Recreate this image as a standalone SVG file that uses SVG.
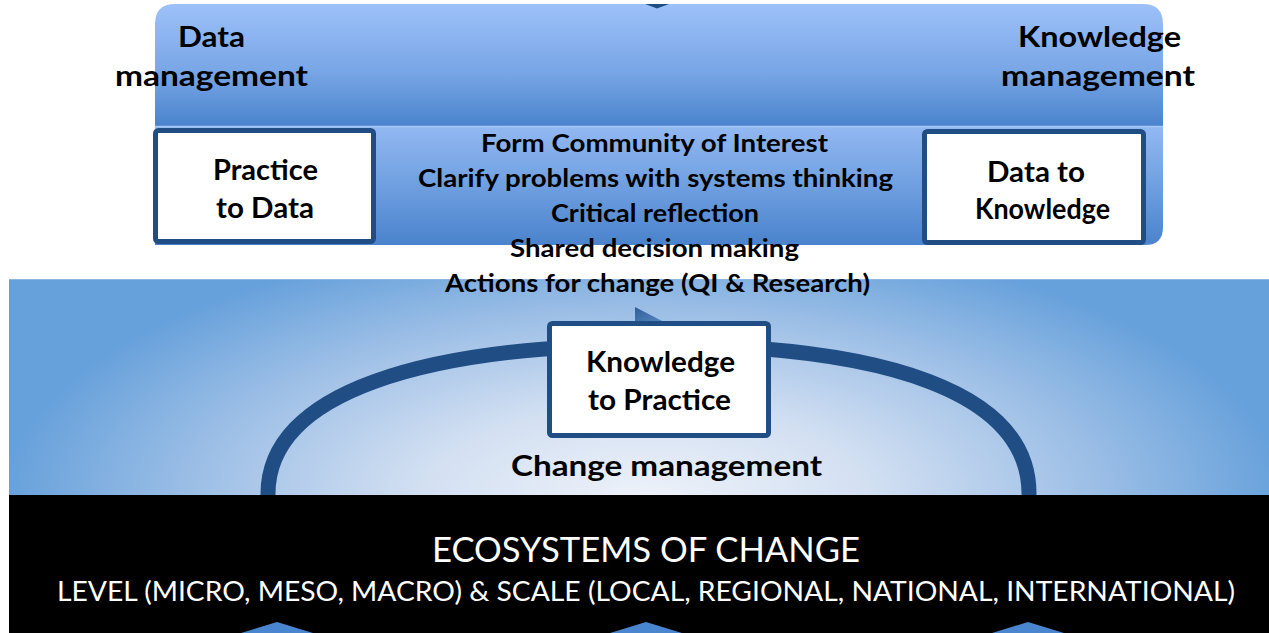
<svg xmlns="http://www.w3.org/2000/svg" width="1269" height="633" viewBox="0 0 1269 633">
  <defs>
    <linearGradient id="gTop" x1="0" y1="0" x2="0" y2="1">
      <stop offset="0" stop-color="#9dc1f9"/>
      <stop offset="0.55" stop-color="#79a6e6"/>
      <stop offset="1" stop-color="#4a84cd"/>
    </linearGradient>
    <linearGradient id="gLow" x1="0" y1="0" x2="0" y2="1">
      <stop offset="0" stop-color="#92b8f1"/>
      <stop offset="0.5" stop-color="#6f9fe0"/>
      <stop offset="1" stop-color="#4a83cc"/>
    </linearGradient>
    <radialGradient id="gMid" cx="645" cy="500" r="640" gradientUnits="userSpaceOnUse" gradientTransform="translate(645 500) scale(1 0.42) translate(-645 -500)">
      <stop offset="0" stop-color="#eef2f9"/>
      <stop offset="0.35" stop-color="#d3e0f2"/>
      <stop offset="0.7" stop-color="#9dbfe6"/>
      <stop offset="1" stop-color="#67a1db"/>
    </radialGradient>
    <linearGradient id="gTri" x1="0" y1="0" x2="1" y2="1">
      <stop offset="0" stop-color="#2f5f98"/>
      <stop offset="1" stop-color="#5a89c2"/>
    </linearGradient>
    <style>
      .box { fill: #ffffff; stroke: #1f4d84; stroke-width: 5; }
      .bl { font-family: Lato, "Open Sans", "Liberation Sans", sans-serif; font-weight: 700; fill: #000000; text-anchor: middle; }
      .wt { font-family: Lato, "Open Sans", "Liberation Sans", sans-serif; font-weight: 400; fill: #ffffff; text-anchor: middle; }
    </style>
  </defs>

  <rect x="0" y="0" width="1269" height="633" fill="#ffffff"/>

  <!-- middle band -->
  <g id="change-band">
    <rect x="9" y="279" width="1260" height="217" fill="url(#gMid)"/>
    <line x1="9" y1="279.5" x2="1269" y2="279.5" stroke="#8fb6e2" stroke-width="1"/>
  </g>

  <!-- top panel -->
  <g id="management-panel">
    <path d="M155 126 V24 Q155 4 175 4 H1143 Q1163 4 1163 24 V126 Z" fill="url(#gTop)"/>
    <path d="M155 127 H1163 V227 Q1163 245 1145 245 H155 Z" fill="url(#gLow)"/>
    <line x1="155" y1="126.5" x2="1163" y2="126.5" stroke="#a9c8f5" stroke-width="1.5"/>
  </g>

  <g id="connectors">
    <path d="M268 496 C266 392 425 345 655 345 C885 345 1031 392 1029 496" fill="none" stroke="#1f4d84" stroke-width="15"/>
    <polygon points="645,4 669,4 657,8.5" fill="#1f4d84"/>
    <polygon points="635,307 635,323 666,323" fill="url(#gTri)"/>
  </g>

  <g id="data-management">
    <text class="bl" x="211.5" y="47" font-size="29" textLength="67" lengthAdjust="spacingAndGlyphs">Data</text>
    <text class="bl" x="211.5" y="86" font-size="29" textLength="193" lengthAdjust="spacingAndGlyphs">management</text>
  </g>

  <g id="knowledge-management">
    <text class="bl" x="1099.5" y="47" font-size="29" textLength="163" lengthAdjust="spacingAndGlyphs">Knowledge</text>
    <text class="bl" x="1098" y="86" font-size="29" textLength="194" lengthAdjust="spacingAndGlyphs">management</text>
  </g>

  <g id="practice-to-data">
    <rect class="box" x="155.5" y="130.5" width="218" height="111" rx="3"/>
    <text class="bl" x="265.5" y="180" font-size="28" textLength="105" lengthAdjust="spacingAndGlyphs">Practice</text>
    <text class="bl" x="265" y="218" font-size="28" textLength="98" lengthAdjust="spacingAndGlyphs">to Data</text>
  </g>

  <g id="data-to-knowledge">
    <rect class="box" x="924.5" y="131.5" width="219" height="111" rx="3"/>
    <text class="bl" x="1036" y="182" font-size="28" textLength="98" lengthAdjust="spacingAndGlyphs">Data to</text>
    <text class="bl" x="1042.5" y="219" font-size="28" textLength="135" lengthAdjust="spacingAndGlyphs">Knowledge</text>
  </g>

  <g id="steps">
    <text class="bl" x="654.5" y="152" font-size="25" textLength="347" lengthAdjust="spacingAndGlyphs">Form Community of Interest</text>
    <text class="bl" x="655.5" y="187" font-size="25" textLength="475" lengthAdjust="spacingAndGlyphs">Clarify problems with systems thinking</text>
    <text class="bl" x="655" y="222" font-size="25" textLength="208" lengthAdjust="spacingAndGlyphs">Critical reflection</text>
    <text class="bl" x="654.5" y="257" font-size="25" textLength="289" lengthAdjust="spacingAndGlyphs">Shared decision making</text>
    <text class="bl" x="657.5" y="292" font-size="25" textLength="425" lengthAdjust="spacingAndGlyphs">Actions for change (QI &amp; Research)</text>
  </g>

  <g id="knowledge-to-practice">
    <rect class="box" x="549.5" y="323.5" width="219" height="112" rx="3"/>
    <text class="bl" x="660.5" y="372" font-size="28" textLength="149" lengthAdjust="spacingAndGlyphs">Knowledge</text>
    <text class="bl" x="659.5" y="410" font-size="28" textLength="143" lengthAdjust="spacingAndGlyphs">to Practice</text>
  </g>

  <g id="change-management">
    <text class="bl" x="666.5" y="476" font-size="28" textLength="311" lengthAdjust="spacingAndGlyphs">Change management</text>
  </g>

  <g id="ecosystems">
    <rect x="9" y="495" width="1260" height="138" fill="#000000"/>
    <text class="wt" x="646" y="562" font-size="34" textLength="428" lengthAdjust="spacingAndGlyphs">ECOSYSTEMS OF CHANGE</text>
    <text class="wt" x="646" y="601" font-size="26" textLength="1178" lengthAdjust="spacingAndGlyphs">LEVEL (MICRO, MESO, MACRO) &amp; SCALE (LOCAL, REGIONAL, NATIONAL, INTERNATIONAL)</text>
    <polygon points="241,633 277,622 313,633" fill="#4a86d0"/>
    <polygon points="610,633 646,622 682,633" fill="#4a86d0"/>
    <polygon points="992,633 1028,622 1064,633" fill="#4a86d0"/>
  </g>
</svg>
